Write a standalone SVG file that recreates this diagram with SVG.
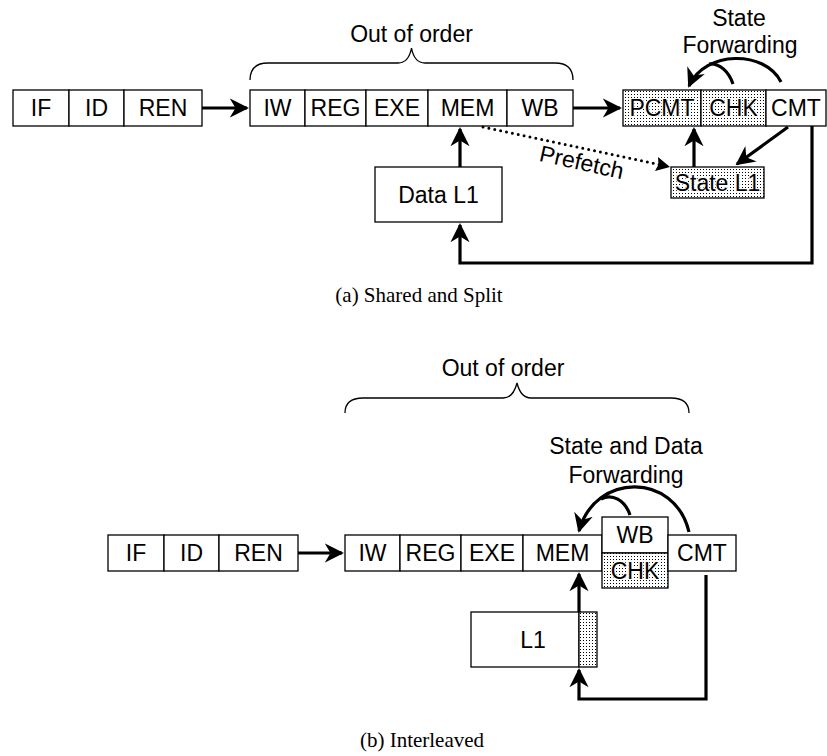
<svg xmlns="http://www.w3.org/2000/svg" width="827" height="756" viewBox="0 0 827 756">
<style>
.box{fill:#fff;stroke:#000;stroke-width:1.3}
.st{fill:url(#stip);stroke:#000;stroke-width:1.3}
.t{font-family:"Liberation Sans",Arial,sans-serif;font-size:23px;text-anchor:middle;fill:#000}
.ts{paint-order:stroke;stroke:#fff;stroke-width:2.2px;stroke-linejoin:round}
.cap{font-family:"Liberation Serif","Times New Roman",serif;font-size:21px;text-anchor:middle;fill:#000}
.ln{fill:none;stroke:#000;stroke-width:3.2}
.br{fill:none;stroke:#000;stroke-width:1.3}
.dot{fill:none;stroke:#000;stroke-width:3;stroke-dasharray:0 6;stroke-linecap:round}
</style>
<defs>
<pattern id="stip" width="3" height="3" patternUnits="userSpaceOnUse">
<rect width="3" height="3" fill="#fff"/>
<rect x="1" y="1" width="1" height="1" fill="#000"/>
</pattern>
<marker id="ah" viewBox="0 0 10 10" refX="9" refY="5" markerWidth="6" markerHeight="6" markerUnits="strokeWidth" orient="auto">
<path d="M0,0 L10,5 L0,10 L3,5 z" fill="#000"/>
</marker>
</defs>

<!-- (a) -->
<g id="a-front">
<rect class="box" x="13" y="90" width="56" height="36"/><text class="t" x="41" y="116">IF</text>
<rect class="box" x="69" y="90" width="55" height="36"/><text class="t" x="96.5" y="116">ID</text>
<rect class="box" x="124" y="90" width="78" height="36"/><text class="t" x="163" y="116">REN</text>
</g>
<g id="a-ooo">
<rect class="box" x="250" y="90" width="55" height="36"/><text class="t" x="277.5" y="116">IW</text>
<rect class="box" x="305" y="90" width="61" height="36"/><text class="t" x="335.5" y="116">REG</text>
<rect class="box" x="366" y="90" width="62" height="36"/><text class="t" x="397" y="116">EXE</text>
<rect class="box" x="428" y="90" width="79" height="36"/><text class="t" x="467.5" y="116">MEM</text>
<rect class="box" x="507" y="90" width="66" height="36"/><text class="t" x="540" y="116">WB</text>
</g>
<g id="a-commit">
<rect class="st" x="623" y="90" width="78" height="36"/><text class="t ts" x="662" y="116">PCMT</text>
<rect class="st" x="701" y="90" width="65" height="36"/><text class="t ts" x="733.5" y="116">CHK</text>
<rect class="box" x="766" y="90" width="60" height="36"/><text class="t" x="796" y="116">CMT</text>
</g>
<g id="a-datal1">
<rect class="box" x="375" y="167" width="127" height="55"/><text class="t" x="438.5" y="203">Data L1</text>
</g>
<g id="a-statel1">
<rect class="st" x="671" y="167" width="93" height="31"/><text class="t ts" x="717.5" y="191">State L1</text>
</g>
<g id="a-labels">
<text class="t" x="411.5" y="42">Out of order</text>
<path class="br" d="M250,80 C250,68 256,63 268,63 L398,63 C406,63 410,56 411.5,48 C413,56 417,63 425,63 L555,63 C567,63 573,68 573,80"/>
<text class="t" x="739" y="26">State</text>
<text class="t" x="740" y="53">Forwarding</text>
<text class="t" transform="translate(580,170) rotate(12.4)" x="0" y="0">Prefetch</text>
<text class="cap" x="419" y="302">(a) Shared and Split</text>
</g>
<g id="a-connectors">
<line class="ln" x1="202" y1="108" x2="247" y2="108" marker-end="url(#ah)"/>
<line class="ln" x1="573" y1="108" x2="620" y2="108" marker-end="url(#ah)"/>
<line class="ln" x1="460" y1="167" x2="460" y2="129" marker-end="url(#ah)"/>
<polyline class="ln" points="812,126 812,263 460,263 460,225" marker-end="url(#ah)"/>
<line class="ln" x1="694" y1="167" x2="694" y2="129" marker-end="url(#ah)"/>
<line class="ln" x1="788" y1="127" x2="737" y2="164" marker-end="url(#ah)"/>
<line class="dot" x1="483" y1="127" x2="662" y2="165"/>
<path d="M670,167 L655,171 L658.5,164.5 L658,157 z" fill="#000"/>
<path class="ln" d="M781,82 C765,50 705,50 689,86" marker-end="url(#ah)"/>
<path class="ln" d="M733,84 C729,72 720,63 709,64"/>
</g>

<!-- (b) -->
<g id="b-front">
<rect class="box" x="108" y="535" width="56" height="36"/><text class="t" x="136" y="561">IF</text>
<rect class="box" x="164" y="535" width="55" height="36"/><text class="t" x="191.5" y="561">ID</text>
<rect class="box" x="219" y="535" width="79" height="36"/><text class="t" x="258.5" y="561">REN</text>
</g>
<g id="b-ooo">
<rect class="box" x="345" y="535" width="55" height="36"/><text class="t" x="372.5" y="561">IW</text>
<rect class="box" x="400" y="535" width="61" height="36"/><text class="t" x="430.5" y="561">REG</text>
<rect class="box" x="461" y="535" width="62" height="36"/><text class="t" x="492" y="561">EXE</text>
<rect class="box" x="523" y="535" width="79" height="36"/><text class="t" x="562.5" y="561">MEM</text>
</g>
<g id="b-wbchk">
<rect class="box" x="602" y="517" width="66" height="36"/><text class="t" x="635" y="543">WB</text>
<rect class="st" x="602" y="553" width="66" height="35"/><text class="t ts" x="635" y="579">CHK</text>
</g>
<g id="b-cmt">
<rect class="box" x="668" y="535" width="68" height="36"/><text class="t" x="702" y="561">CMT</text>
</g>
<g id="b-l1">
<rect class="box" x="471" y="612" width="108" height="55"/><text class="t" x="533" y="648">L1</text>
<rect class="st" x="579" y="612" width="18" height="55"/>
</g>
<g id="b-labels">
<text class="t" x="503" y="376">Out of order</text>
<path class="br" d="M345,413 C345,403 351,398 363,398 L503,398 C511,398 515,391 517,383 C519,391 523,398 531,398 L671,398 C683,398 689,403 689,413"/>
<text class="t" x="626" y="454">State and Data</text>
<text class="t" x="626" y="483">Forwarding</text>
<text class="cap" x="422" y="747">(b) Interleaved</text>
</g>
<g id="b-connectors">
<line class="ln" x1="298" y1="553" x2="342" y2="553" marker-end="url(#ah)"/>
<line class="ln" x1="579" y1="612" x2="579" y2="574" marker-end="url(#ah)"/>
<polyline class="ln" points="706,575 706,699 579,699 579,670" marker-end="url(#ah)"/>
<path class="ln" d="M689,532 C675,472 595,472 579,531" marker-end="url(#ah)"/>
<path class="ln" d="M630,515 C625,500 612,493 601,499"/>
</g>
</svg>
